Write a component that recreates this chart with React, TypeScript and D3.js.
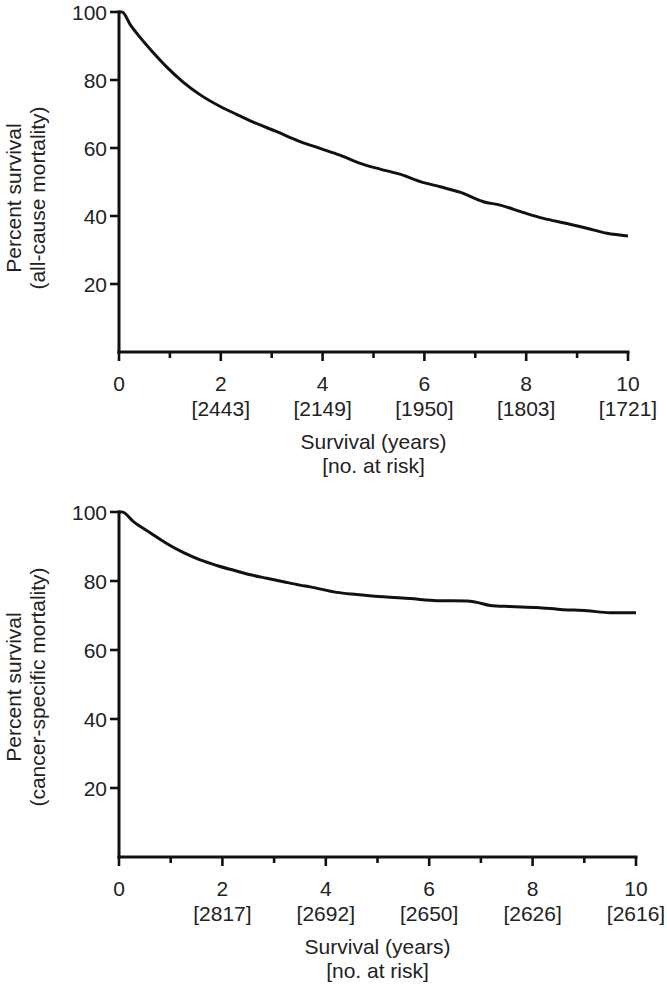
import React from "react";
import * as d3 from "d3";

const xTicksMajor = [0, 2, 4, 6, 8, 10];
const xTicksMinor = [1, 3, 5, 7, 9];
const yTicks = [20, 40, 60, 80, 100];

const allCauseTime = [0, 0.06, 0.22, 0.41, 0.67, 0.94, 1.26, 1.59, 1.99, 2.31, 2.64, 3.1, 3.56, 3.95, 4.34, 4.74, 5.13, 5.52, 5.92, 6.31, 6.7, 7.16, 7.49, 7.95, 8.34, 8.8, 9.19, 9.59, 10.0];
const allCauseSurv = [100, 100, 96.3, 92.6, 88.1, 83.8, 79.4, 75.7, 72.2, 69.9, 67.6, 64.8, 61.9, 59.9, 57.9, 55.5, 53.8, 52.3, 50.1, 48.6, 47.0, 44.2, 43.2, 41.0, 39.3, 37.8, 36.4, 34.9, 34.1];
const allCauseAtRisk = ["", "[2443]", "[2149]", "[1950]", "[1803]", "[1721]"];

const cancerTime = [0, 0.06, 0.28, 0.61, 0.93, 1.25, 1.57, 1.89, 2.22, 2.54, 2.86, 3.18, 3.5, 3.7, 4.21, 4.6, 5.12, 5.63, 6.15, 6.73, 6.92, 7.18, 7.56, 8.08, 8.59, 9.05, 9.5, 10.0];
const cancerSurv = [100, 100, 97.2, 93.9, 90.8, 88.2, 86.1, 84.5, 83.1, 81.8, 80.8, 79.8, 78.8, 78.3, 76.7, 76.1, 75.4, 74.9, 74.3, 74.2, 73.8, 72.9, 72.6, 72.3, 71.7, 71.4, 70.8, 70.8];
const cancerAtRisk = ["", "[2817]", "[2692]", "[2650]", "[2626]", "[2616]"];

const FONT = "'Liberation Sans', Arial, Helvetica, sans-serif";
const TEXT = "#222";
const INK = "#111";
const FS = 21;

type PanelProps = {
  times: number[];
  surv: number[];
  atRisk: string[];
  titleLine2: string;
  x0: number;
  x1: number;
  yTop: number;
  yBottom: number;
  titleCenter: number;
};

function Panel({ times, surv, atRisk, titleLine2, x0, x1, yTop, yBottom, titleCenter }: PanelProps) {
  const x = d3.scaleLinear().domain([0, 10]).range([x0, x1]);
  const y = d3.scaleLinear().domain([0, 100]).range([yBottom, yTop]);
  const pts = times.map((t, i) => [t, surv[i]] as [number, number]);
  const line = d3
    .line<[number, number]>()
    .x((d) => x(d[0]))
    .y((d) => y(d[1]))
    .curve(d3.curveMonotoneX);
  const axisY = y(0);
  return (
    <g>
      <line x1={x(0)} x2={x(0)} y1={y(100) - 1.5} y2={axisY + 1.5} stroke={INK} strokeWidth={3} />
      {yTicks.map((v) => (
        <g key={"y" + v}>
          <line x1={x(0) - 9} x2={x(0)} y1={y(v)} y2={y(v)} stroke={INK} strokeWidth={2.6} />
          <text x={x(0) - 12} y={y(v) + 7.5} textAnchor="end" fontSize={FS} fontFamily={FONT} fill={TEXT}>
            {v}
          </text>
        </g>
      ))}
      <line x1={x(0) - 1.5} x2={x(10) + 1.5} y1={axisY} y2={axisY} stroke={INK} strokeWidth={3} />
      {xTicksMajor.map((v, i) => (
        <g key={"x" + v}>
          <line x1={x(v)} x2={x(v)} y1={axisY} y2={axisY + 9} stroke={INK} strokeWidth={2.6} />
          <text x={x(v)} y={axisY + 38.5} textAnchor="middle" fontSize={FS} fontFamily={FONT} fill={TEXT}>
            {v}
          </text>
          {atRisk[i] ? (
            <text x={x(v)} y={axisY + 63.5} textAnchor="middle" fontSize={FS} fontFamily={FONT} fill={TEXT}>
              {atRisk[i]}
            </text>
          ) : null}
        </g>
      ))}
      {xTicksMinor.map((v) => (
        <line key={"m" + v} x1={x(v)} x2={x(v)} y1={axisY} y2={axisY + 6} stroke={INK} strokeWidth={2.6} />
      ))}
      <text x={(x(0) + x(10)) / 2} y={axisY + 96.5} textAnchor="middle" fontSize={FS} fontFamily={FONT} fill={TEXT}>
        Survival (years)
      </text>
      <text x={(x(0) + x(10)) / 2} y={axisY + 120.5} textAnchor="middle" fontSize={FS} fontFamily={FONT} fill={TEXT}>
        [no. at risk]
      </text>
      <text transform={`translate(21,${titleCenter}) rotate(-90)`} textAnchor="middle" fontSize={FS} fontFamily={FONT} fill={TEXT}>
        Percent survival
      </text>
      <text transform={`translate(45,${titleCenter}) rotate(-90)`} textAnchor="middle" fontSize={FS} fontFamily={FONT} fill={TEXT}>
        {titleLine2}
      </text>
      <path d={line(pts) || ""} fill="none" stroke={INK} strokeWidth={3} strokeLinejoin="round" />
    </g>
  );
}

export default function App() {
  return (
    <svg width={667} height={985} style={{ position: "absolute", left: 0, top: 0, background: "#fff" }}>
      <rect width={667} height={985} fill="#fff" />
      <Panel
        times={allCauseTime}
        surv={allCauseSurv}
        atRisk={allCauseAtRisk}
        titleLine2="(all-cause mortality)"
        x0={119}
        x1={628}
        yTop={12}
        yBottom={352}
        titleCenter={198}
      />
      <Panel
        times={cancerTime}
        surv={cancerSurv}
        atRisk={cancerAtRisk}
        titleLine2="(cancer-specific mortality)"
        x0={119}
        x1={636}
        yTop={512}
        yBottom={857}
        titleCenter={687}
      />
    </svg>
  );
}
